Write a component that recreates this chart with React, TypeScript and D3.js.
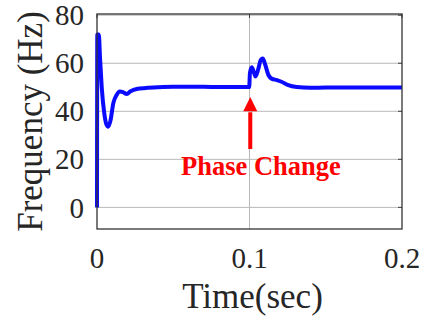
import React from "react";
import * as d3 from "d3";

// Frequency response of the grid-tied inverter, 0–0.2 s
const timeSec = [
  0, 0.0002, 0.0012, 0.002, 0.0031, 0.0048, 0.0062, 0.0074, 0.0088, 0.0107,
  0.0129, 0.015, 0.017, 0.0195, 0.022, 0.026, 0.032, 0.04, 0.05, 0.06, 0.07,
  0.08, 0.09, 0.0998, 0.1003, 0.1015, 0.103, 0.104, 0.1055, 0.1075, 0.1087,
  0.11, 0.1125, 0.1145, 0.118, 0.121, 0.125, 0.131, 0.14, 0.15, 0.17, 0.2,
];
const freqHz = [
  0, 72, 72, 62, 50, 39, 34.5, 33.6, 36, 43.4, 46.8, 48.2, 48, 47.2, 48.3,
  49.3, 49.7, 50, 50.2, 50.2, 50.2, 50.1, 50.1, 50.1, 56, 58.3, 56, 54.5, 57,
  61.5, 62, 60, 55, 53.6, 53, 52.3, 51, 50.1, 49.8, 49.9, 49.9, 49.9,
];

const xTicks = [0, 0.1, 0.2];
const xTickLabels = ["0", "0.1", "0.2"];
const yTicks = [0, 20, 40, 60, 80];

const annotationText = "Phase Change";
const annotationTime = 0.1005;
// arrow: shaft bottom, head base and tip (Hz)
const arrowLevels = [24.3, 40, 46];

const W = 425;
const H = 320;
const left = 97;
const right = 402;
const top = 14;
const bottom = 229;

export default function App() {
  const x = d3.scaleLinear().domain([0, 0.2]).range([left, right]);
  const y = d3.scaleLinear().domain([-9, 80.5]).range([bottom, top]);

  const line = d3
    .line<number>()
    .x((_, i) => x(timeSec[i]))
    .y((d) => y(d))
    .curve(d3.curveMonotoneX);

  const font = "'Liberation Serif', 'Times New Roman', serif";
  const ax = x(annotationTime);
  const [aBottom, aBase, aTip] = arrowLevels.map((v) => y(v));

  return (
    <svg
      width={W}
      height={H}
      style={{ position: "absolute", left: 0, top: 0, background: "#fff" }}
      fontFamily={font}
    >
      {/* grid */}
      {yTicks.map((t) => (
        <line key={"gy" + t} x1={left} x2={right} y1={y(t)} y2={y(t)} stroke="#b8b8b8" strokeWidth={1} />
      ))}
      {xTicks.slice(1, -1).map((t) => (
        <line key={"gx" + t} x1={x(t)} x2={x(t)} y1={top} y2={bottom} stroke="#b8b8b8" strokeWidth={1} />
      ))}

      {/* inward ticks on the right and top edges */}
      {yTicks.map((t) => (
        <line key={"ty" + t} x1={right - 4} x2={right} y1={y(t)} y2={y(t)} stroke="#404040" strokeWidth={1} />
      ))}
      {xTicks.map((t) => (
        <line key={"tx" + t} x1={x(t)} x2={x(t)} y1={top} y2={top + 4} stroke="#404040" strokeWidth={1} />
      ))}

      {/* series */}
      <path d={line(freqHz) ?? ""} fill="none" stroke="#0a0aff" strokeWidth={4} strokeLinejoin="round" />

      {/* frame */}
      <rect x={left} y={top} width={right - left} height={bottom - top} fill="none" stroke="#333" strokeWidth={1.3} />

      {/* annotation */}
      <line x1={ax} x2={ax} y1={aBottom} y2={aBase + 1} stroke="#ff0000" strokeWidth={4} />
      <path d={`M${ax},${aTip} L${ax - 7},${aBase} L${ax + 7},${aBase} Z`} fill="#ff0000" />
      <text x={261} y={175} textAnchor="middle" fontSize={26.5} fontWeight="bold" fill="#ff0000">
        {annotationText}
      </text>

      {/* y tick labels */}
      {yTicks.map((t) => (
        <text key={"ly" + t} x={84} y={y(t)} dy="0.35em" textAnchor="end" fontSize={29} fill="#262626">
          {t}
        </text>
      ))}
      {/* x tick labels */}
      {xTicks.map((t, i) => (
        <text key={"lx" + t} x={x(t)} y={268} textAnchor="middle" fontSize={29} fill="#262626">
          {xTickLabels[i]}
        </text>
      ))}

      {/* axis titles */}
      <text x={(left + right) / 2 + 3} y={308} textAnchor="middle" fontSize={35} fill="#262626">
        Time(sec)
      </text>
      <text
        transform={`translate(42,${(top + bottom) / 2}) rotate(-90)`}
        textAnchor="middle"
        fontSize={35}
        fill="#262626"
      >
        Frequency (Hz)
      </text>
    </svg>
  );
}
